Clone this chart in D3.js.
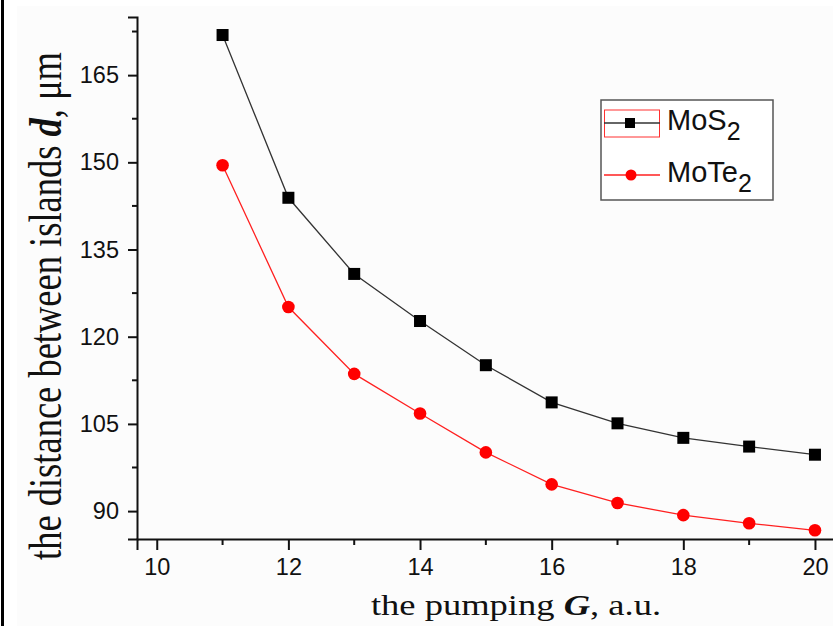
<!DOCTYPE html>
<html>
<head>
<meta charset="utf-8">
<script src="https://cdn.jsdelivr.net/npm/d3@7"></script>
<style>
  body { margin: 0; background: #fff; }
  svg { display: block; }
</style>
</head>
<body>
<div id="chart"></div>
<script>
// svg size
var width = 833, height = 626;

// data
var pumping = [11, 12, 13, 14, 15, 16, 17, 18, 19, 20];
var mos2 = [171.9, 143.9, 130.8, 122.7, 115.1, 108.7, 105.1, 102.6, 101.1, 99.7];
var mote2 = [149.5, 125.1, 113.6, 106.8, 100.1, 94.6, 91.4, 89.3, 87.9, 86.7];

var xTicks = [10, 12, 14, 16, 18, 20];
var xMinor = [11, 13, 15, 17, 19];
var yTicks = [90, 105, 120, 135, 150, 165];
var yMinor = [97.5, 112.5, 127.5, 142.5, 157.5, 172.5];

var seriesNames = ["MoS", "MoTe"];

// scales
var x = d3.scaleLinear().domain([9.7, 20.35]).range([137, 838]);
var y = d3.scaleLinear().domain([85.2, 175]).range([539, 17]);

var svg = d3.select("#chart")
            .append("svg")
            .attr("width", width)
            .attr("height", height);

// background + left frame line
svg.append("rect")
    .attr("x", 17).attr("y", 6)
    .attr("width", width - 17).attr("height", height - 6)
    .attr("fill", "#fcfcfc");

svg.append("line")
    .attr("x1", 2.5).attr("x2", 2.5)
    .attr("y1", 0).attr("y2", height)
    .style("stroke", "#000")
    .style("stroke-width", 3);

// axes
var xAxis = d3.axisBottom(x).tickValues(xTicks).tickSize(11).tickPadding(8).tickFormat(d3.format("d"));
var yAxis = d3.axisLeft(y).tickValues(yTicks).tickSize(9).tickPadding(9).tickFormat(d3.format("d"));

var gx = svg.append("g")
            .attr("transform", "translate(0," + y.range()[0] + ")")
            .call(xAxis);

var gy = svg.append("g")
            .attr("transform", "translate(" + x.range()[0] + ",0)")
            .call(yAxis);

gx.append("g").selectAll("line")
    .data(xMinor)
    .enter()
        .append("line")
        .attr("x1", function(d){ return x(d); })
        .attr("x2", function(d){ return x(d); })
        .attr("y1", 0).attr("y2", 6);

gy.append("g").selectAll("line")
    .data(yMinor)
    .enter()
        .append("line")
        .attr("y1", function(d){ return y(d); })
        .attr("y2", function(d){ return y(d); })
        .attr("x1", 0).attr("x2", -5);

[gx, gy].forEach(function(g){
    g.select(".domain").attr("stroke", "#111").attr("stroke-width", 2);
    g.selectAll("line").attr("stroke", "#111").attr("stroke-width", 2);
    g.selectAll("text")
        .attr("fill", "#111")
        .style("font-family", "'Liberation Sans', Arial, sans-serif")
        .style("font-size", "23.5px");
});

// axis titles (the original export is stretched sideways)
var xTitle = svg.append("text")
    .attr("transform", "translate(516,615) scale(1.26,1)")
    .attr("text-anchor", "middle")
    .attr("fill", "#111")
    .style("font-family", "'Liberation Serif', 'Times New Roman', serif")
    .style("font-size", "29px");
xTitle.append("tspan").text("the pumping ");
xTitle.append("tspan").text("G").style("font-weight", "bold").style("font-style", "italic");
xTitle.append("tspan").text(", a.u.");

var yTitle = svg.append("text")
    .attr("transform", "translate(61,306) scale(1.26,1) rotate(-90)")
    .attr("text-anchor", "middle")
    .attr("fill", "#111")
    .style("font-family", "'Liberation Serif', 'Times New Roman', serif")
    .style("font-size", "36.5px");
yTitle.append("tspan").text("the distance between islands ");
yTitle.append("tspan").text("d").style("font-weight", "bold").style("font-style", "italic");
yTitle.append("tspan").text(", \u03bcm");

// lines
var line = d3.line()
            .x(function(d){ return x(d[0]); })
            .y(function(d){ return y(d[1]); });

var blackPts = d3.zip(pumping, mos2);
var redPts = d3.zip(pumping, mote2);

svg.append("path")
    .attr("d", line(blackPts))
    .attr("fill", "none")
    .attr("stroke", "#333")
    .attr("stroke-width", 1.3);

svg.append("path")
    .attr("d", line(redPts))
    .attr("fill", "none")
    .attr("stroke", "#ff2020")
    .attr("stroke-width", 1.3);

svg.append("g").selectAll("rect")
    .data(blackPts)
    .enter()
        .append("rect")
        .attr("x", function(d){ return x(d[0]) - 6; })
        .attr("y", function(d){ return y(d[1]) - 6; })
        .attr("width", 12).attr("height", 12)
        .attr("fill", "#000");

svg.append("g").selectAll("circle")
    .data(redPts)
    .enter()
        .append("circle")
        .attr("cx", function(d){ return x(d[0]); })
        .attr("cy", function(d){ return y(d[1]); })
        .attr("r", 6.3)
        .attr("fill", "#ff0000");

// legend
var legend = svg.append("g").attr("transform", "translate(601,100)");

legend.append("rect")
    .attr("width", 172).attr("height", 100)
    .attr("fill", "#fff")
    .attr("stroke", "#555")
    .attr("stroke-width", 1.5);

// red selection box around first sample
legend.append("rect")
    .attr("x", 3.5).attr("y", 10)
    .attr("width", 55).attr("height", 27)
    .attr("fill", "none")
    .attr("stroke", "#ff3030")
    .attr("stroke-width", 1);

var rows = legend.selectAll(".row")
    .data(seriesNames)
    .enter()
        .append("g")
        .attr("transform", function(d, i){ return "translate(0," + (i == 0 ? 23 : 75) + ")"; });

rows.append("line")
    .attr("x1", 3).attr("x2", 59)
    .attr("stroke", function(d, i){ return i == 0 ? "#333" : "#ff2020"; })
    .attr("stroke-width", 1.3);

rows.filter(function(d, i){ return i == 0; })
    .append("rect")
    .attr("x", 24).attr("y", -5)
    .attr("width", 10).attr("height", 10)
    .attr("fill", "#000");

rows.filter(function(d, i){ return i == 1; })
    .append("circle")
    .attr("cx", 30).attr("r", 5.5)
    .attr("fill", "#ff0000");

var labels = rows.append("text")
    .attr("x", 66).attr("y", 7)
    .attr("fill", "#111")
    .style("font-family", "'Liberation Sans', Arial, sans-serif")
    .style("font-size", "29px");

labels.append("tspan").text(function(d){ return d; });
labels.append("tspan")
    .attr("dy", 10)
    .style("font-size", "25px")
    .text("2");
</script>
</body>
</html>
